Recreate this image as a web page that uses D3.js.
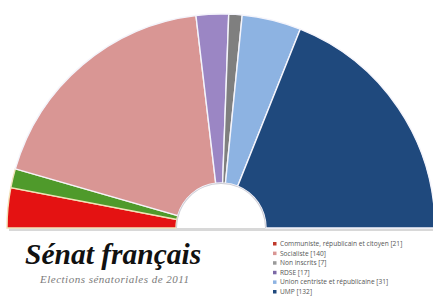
<!DOCTYPE html>
<html>
<head>
<meta charset="utf-8">
<script src="https://cdn.jsdelivr.net/npm/d3@7"></script>
<style>
  html, body { margin: 0; padding: 0; background: #fff; }
  svg { display: block; }
</style>
</head>
<body>
<svg id="chart" width="433" height="296"></svg>
<script>
// seats drawn in the hemicycle, left to right
const slices = ["CRC", "EELV", "Socialiste", "RDSE", "Non inscrits", "UCR", "UMP"];
const seats = [21, 10, 130, 17, 7, 31, 132];
const sliceColors = ["#e41212", "#4f9a2b", "#d99694", "#9b86c4", "#7f7f7f", "#8db3e2", "#1f497d"];

// legend
const legendLabels = [
  "Communiste, républicain et citoyen [21]",
  "Socialiste [140]",
  "Non inscrits [7]",
  "RDSE [17]",
  "Union centriste et républicaine [31]",
  "UMP [132]"
];
const legendColors = ["#c0392b", "#d99694", "#9a9a9a", "#7b68a6", "#8db3e2", "#1f497d"];

const title = "Sénat français";
const subtitle = "Elections sénatoriales de 2011";

const svg = d3.select("#chart");
const cx = 221, cy = 228;
const outerR = 214, innerR = 45;

const pie = d3.pie()
  .sort(null)
  .startAngle(-Math.PI / 2)
  .endAngle(Math.PI / 2);

const arc = d3.arc()
  .innerRadius(innerR)
  .outerRadius(outerR);

const arcs = pie(seats);

// soft shadow under the hemicycle
svg.append("rect")
  .attr("x", cx - outerR + 2)
  .attr("y", cy)
  .attr("width", outerR * 2 - 4)
  .attr("height", 3)
  .attr("fill", "#d8d8d8");

const g = svg.append("g").attr("transform", `translate(${cx},${cy})`);

g.selectAll("path")
  .data(arcs)
  .join("path")
  .attr("d", arc)
  .attr("fill", (d, i) => sliceColors[i])
  .attr("stroke", (d, i) => i < 2 ? "#f2e2b8" : "#f4f4fb")
  .attr("stroke-width", 1.4);

// inner hole rim
g.append("path")
  .attr("d", d3.arc().innerRadius(innerR - 1).outerRadius(innerR)({startAngle: -Math.PI / 2, endAngle: Math.PI / 2}))
  .attr("fill", "#cfcfd6");

// title block
svg.append("text")
  .attr("x", 25)
  .attr("y", 264)
  .attr("font-family", "Liberation Serif, Times New Roman, serif")
  .attr("font-style", "italic")
  .attr("font-weight", "bold")
  .attr("font-size", 29.5)
  .attr("fill", "#111")
  .text(title);

svg.append("text")
  .attr("x", 40)
  .attr("y", 283)
  .attr("font-family", "Liberation Serif, Times New Roman, serif")
  .attr("font-style", "italic")
  .attr("font-size", 11)
  .attr("letter-spacing", 0.5)
  .attr("fill", "#7a7a7a")
  .text(subtitle);

// legend
const legend = svg.append("g").attr("transform", "translate(273,244)");
const rowH = 9.6;

legend.selectAll("rect")
  .data(legendLabels)
  .join("rect")
  .attr("x", 0)
  .attr("y", (d, i) => i * rowH - 2)
  .attr("width", 3.5)
  .attr("height", 3.5)
  .attr("fill", (d, i) => legendColors[i]);

legend.selectAll("text")
  .data(legendLabels)
  .join("text")
  .attr("x", 7)
  .attr("y", (d, i) => i * rowH + 2)
  .attr("font-family", "Open Sans, DejaVu Sans, sans-serif")
  .attr("font-size", 6.6)
  .attr("fill", "#555")
  .text(d => d);
</script>
</body>
</html>
